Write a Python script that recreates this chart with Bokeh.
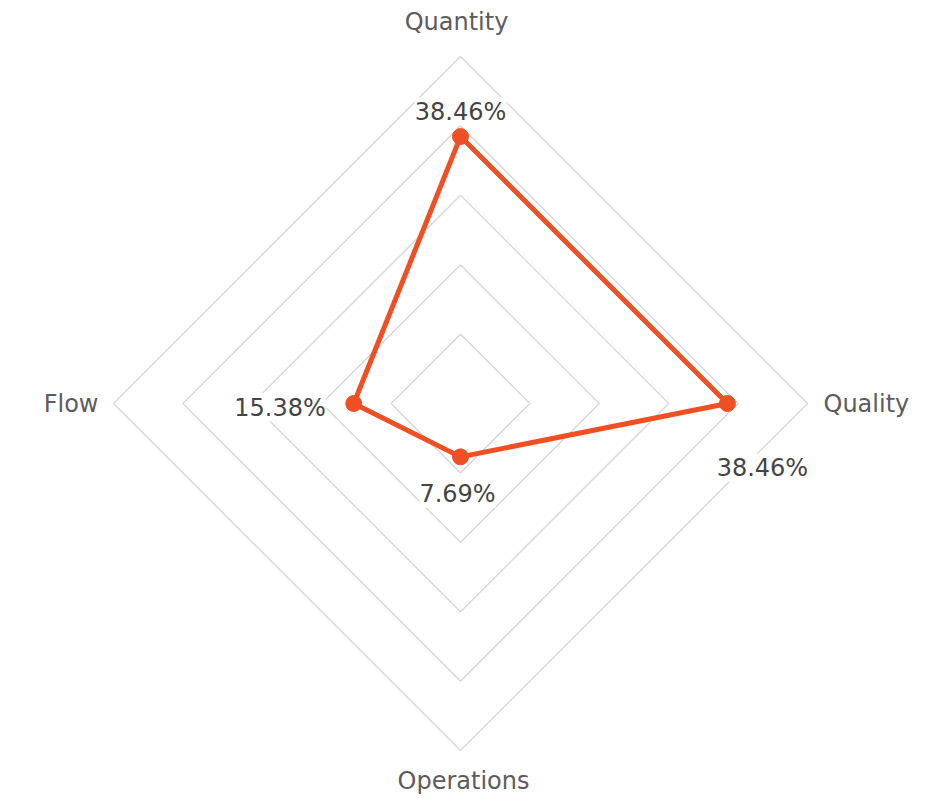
import numpy as np
from bokeh.plotting import figure
from bokeh.models import ColumnDataSource, LabelSet, Range1d
from bokeh.core.properties import value
from bokeh.embed import file_html
from bokeh.resources import INLINE

categories = ["Quantity", "Quality", "Operations", "Flow"]
angles_deg = [90, 0, -90, 180]
values = [38.46, 38.46, 7.69, 15.38]
value_labels = ["38.46%", "38.46%", "7.69%", "15.38%"]
grid_levels = [10, 20, 30, 40, 50]
max_value = 50

W, H = 935, 795
cx, cy = 460, 403          # centre in figure pixels (from top-left)
k = 347 / max_value        # pixels per unit

p = figure(width=W, height=H, output_backend="svg", toolbar_location=None,
           x_range=Range1d(-cx / k, (W - cx) / k),
           y_range=Range1d(-(H - cy) / k, cy / k),
           min_border=0, outline_line_color=None)
p.axis.visible = False
p.grid.visible = False
p.background_fill_color = "white"
p.border_fill_color = "white"

ang = np.radians(angles_deg)
cosA = np.round(np.cos(ang), 10)
sinA = np.round(np.sin(ang), 10)

# grid diamonds
for lvl in grid_levels:
    gx = list(lvl * cosA) + [lvl * cosA[0]]
    gy = list(lvl * sinA) + [lvl * sinA[0]]
    p.line(gx, gy, line_color="#d9d9d9", line_width=1.5)

# series
vx = np.array(values) * cosA
vy = np.array(values) * sinA
red = "#f04e23"
p.line(list(vx) + [vx[0]], list(vy) + [vy[0]], line_color=red, line_width=5,
       line_join="round")
p.scatter(vx, vy, size=16, fill_color=red, line_color=red)

FONT = value("DejaVu Sans")

# value labels
src = ColumnDataSource(dict(
    x=vx, y=vy, text=value_labels,
    xo=[0, 35, -3, -28], yo=[25, -64, -37, -4],
    align=["center", "center", "center", "right"],
))
p.add_layout(LabelSet(x="x", y="y", text="text", source=src,
                      x_offset="xo", y_offset="yo", text_align="align",
                      text_baseline="middle", text_font=FONT,
                      text_font_size="24px", text_color="#444444",
                      background_fill_color="white"))

# category labels
csrc = ColumnDataSource(dict(
    x=max_value * cosA, y=max_value * sinA, text=categories,
    xo=[-4, 16, 3, -15], yo=[35, 0, -30, 0],
    align=["center", "left", "center", "right"],
))
p.add_layout(LabelSet(x="x", y="y", text="text", source=csrc,
                      x_offset="xo", y_offset="yo", text_align="align",
                      text_baseline="middle", text_font=FONT,
                      text_font_size="24px", text_color="#5c5c5c"))

open("out.html", "w").write(file_html(p, INLINE))
